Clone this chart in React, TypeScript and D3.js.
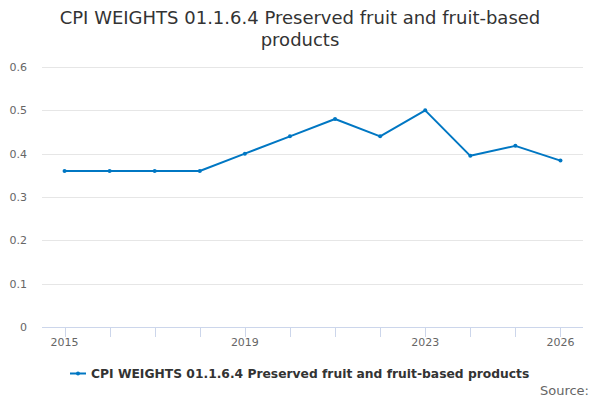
import { useRef, useEffect } from "react";
import * as d3 from "d3";

const years = [2015, 2016, 2017, 2018, 2019, 2020, 2021, 2022, 2023, 2024, 2025, 2026];
const weights = [0.36, 0.36, 0.36, 0.36, 0.4, 0.44, 0.48, 0.44, 0.5, 0.395, 0.418, 0.384];
const yTicks = [0, 0.1, 0.2, 0.3, 0.4, 0.5, 0.6];
const xLabels = [2015, 2019, 2023, 2026];
const seriesName = "CPI WEIGHTS 01.1.6.4 Preserved fruit and fruit-based products";
const titleLines = ["CPI WEIGHTS 01.1.6.4 Preserved fruit and fruit-based", "products"];

const FONT = "'DejaVu Sans', sans-serif";
const LINE = "#0077c3";

export default function App() {
  const svgRef = useRef<SVGSVGElement>(null);

  useEffect(() => {
    if (!svgRef.current) return;
    const svg = d3.select(svgRef.current);
    svg.selectAll("*").remove();

    const width = 600;
    const height = 400;
    const left = 42;
    const right = 583;
    const top = 67;
    const bottom = 327;

    const x = d3.scaleLinear().domain([2014.5, 2026.5]).range([left, right]);
    const y = d3.scaleLinear().domain([0, 0.6]).range([bottom, top]);

    svg.attr("width", width).attr("height", height).style("font-family", FONT);

    svg.append("rect").attr("width", width).attr("height", height).attr("fill", "#fff");

    // title
    svg
      .append("text")
      .attr("x", width / 2)
      .attr("text-anchor", "middle")
      .attr("fill", "#333")
      .attr("font-size", 18)
      .selectAll("tspan")
      .data(titleLines)
      .enter()
      .append("tspan")
      .attr("x", width / 2)
      .attr("y", (_, i) => 24 + i * 22)
      .text((d) => d);

    // gridlines
    svg
      .append("g")
      .selectAll("line")
      .data(yTicks.slice(1))
      .enter()
      .append("line")
      .attr("x1", left)
      .attr("x2", right)
      .attr("y1", (d) => Math.round(y(d)) + 0.5)
      .attr("y2", (d) => Math.round(y(d)) + 0.5)
      .attr("stroke", "#e6e6e6");

    // y labels
    svg
      .append("g")
      .selectAll("text")
      .data(yTicks)
      .enter()
      .append("text")
      .attr("x", 27)
      .attr("y", (d) => y(d) + 4)
      .attr("text-anchor", "end")
      .attr("fill", "#666")
      .attr("font-size", 11)
      .text((d) => (d === 0 ? "0" : d3.format(".1f")(d)));

    // x axis line and ticks
    svg
      .append("line")
      .attr("x1", left)
      .attr("x2", right)
      .attr("y1", bottom + 0.5)
      .attr("y2", bottom + 0.5)
      .attr("stroke", "#ccd6eb");

    svg
      .append("g")
      .selectAll("line")
      .data(years)
      .enter()
      .append("line")
      .attr("x1", (d) => Math.round(x(d)) + 0.5)
      .attr("x2", (d) => Math.round(x(d)) + 0.5)
      .attr("y1", bottom)
      .attr("y2", bottom + 10)
      .attr("stroke", "#ccd6eb");

    svg
      .append("g")
      .selectAll("text")
      .data(xLabels)
      .enter()
      .append("text")
      .attr("x", (d) => x(d))
      .attr("y", 346)
      .attr("text-anchor", "middle")
      .attr("fill", "#666")
      .attr("font-size", 11)
      .text((d) => String(d));

    // series
    const line = d3
      .line<number>()
      .x((_, i) => x(years[i]))
      .y((d) => y(d));

    svg
      .append("path")
      .datum(weights)
      .attr("d", line)
      .attr("fill", "none")
      .attr("stroke", LINE)
      .attr("stroke-width", 2)
      .attr("stroke-linejoin", "round");

    svg
      .append("g")
      .selectAll("circle")
      .data(weights)
      .enter()
      .append("circle")
      .attr("cx", (_, i) => x(years[i]))
      .attr("cy", (d) => y(d))
      .attr("r", 2)
      .attr("fill", LINE);

    // legend
    const lg = svg.append("g");
    lg.append("line")
      .attr("x1", 70)
      .attr("x2", 86)
      .attr("y1", 373.5)
      .attr("y2", 373.5)
      .attr("stroke", LINE)
      .attr("stroke-width", 2);
    lg.append("circle").attr("cx", 78).attr("cy", 373.5).attr("r", 2).attr("fill", LINE);
    lg.append("text")
      .attr("x", 91)
      .attr("y", 378)
      .attr("fill", "#333")
      .attr("font-size", 12.3)
      .attr("font-weight", "bold")
      .text(seriesName);

    // credits
    svg
      .append("text")
      .attr("x", 589)
      .attr("y", 395)
      .attr("text-anchor", "end")
      .attr("fill", "#666")
      .attr("font-size", 13)
      .text("Source:");
  }, []);

  return <svg ref={svgRef} style={{ display: "block", position: "absolute", left: 0, top: 0 }} />;
}
